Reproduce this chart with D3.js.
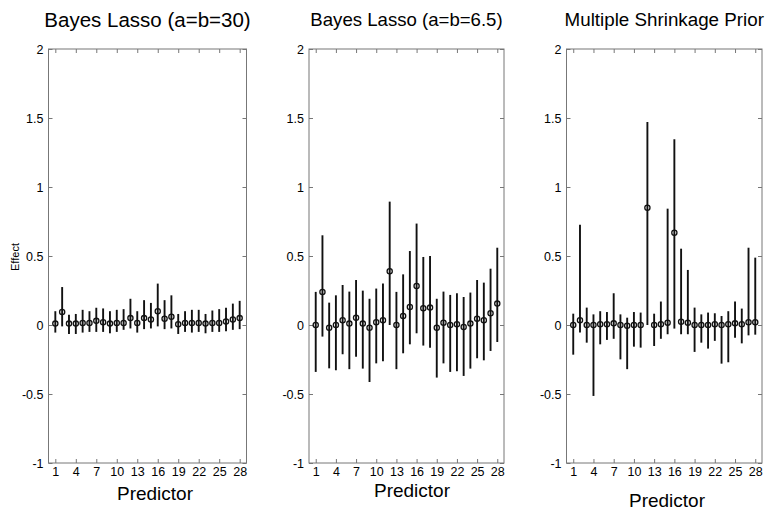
<!DOCTYPE html>
<html>
<head>
<title>Effect estimates | D3</title>
<style>
    body { margin: 0; background: #fff; font-family: "Liberation Sans", Arial, sans-serif; }
    .box { fill: none; stroke: #777; stroke-width: 1; }
    .tick line { stroke: #777; }
    .tick text { fill: #000; font-size: 12.5px; }
    .bar { stroke: #111; stroke-width: 1.9; }
    .est { fill: none; stroke: #111; stroke-width: 1.3; }
</style>
<script src="https://d3js.org/d3.v7.min.js"></script>
</head>
<body>
<script>
// predictors and axis ticks
var predictors = [1,2,3,4,5,6,7,8,9,10,11,12,13,14,15,16,17,18,19,20,21,22,23,24,25,26,27,28];
var xTicks = [1,4,7,10,13,16,19,22,25,28];
var yTicks = [-1,-0.5,0,0.5,1,1.5,2];
var titles = ["Bayes Lasso (a=b=30)", "Bayes Lasso (a=b=6.5)", "Multiple Shrinkage Prior"];

// Bayes Lasso (a=b=30)
var est1 = [0.01,0.095,0.01,0.01,0.015,0.015,0.03,0.02,0.01,0.015,0.015,0.05,0.015,0.05,0.04,0.10,0.045,0.06,0.005,0.015,0.015,0.015,0.01,0.015,0.015,0.025,0.04,0.05];
var hi1  = [0.10,0.275,0.075,0.08,0.11,0.10,0.125,0.12,0.10,0.11,0.115,0.19,0.10,0.18,0.16,0.30,0.18,0.215,0.08,0.10,0.11,0.11,0.08,0.105,0.115,0.125,0.155,0.175];
var lo1  = [-0.055,-0.01,-0.065,-0.065,-0.055,-0.05,-0.05,-0.05,-0.06,-0.05,-0.035,-0.025,-0.055,-0.03,-0.025,-0.01,-0.03,-0.025,-0.065,-0.05,-0.055,-0.05,-0.06,-0.05,-0.05,-0.045,-0.035,-0.03];

// Bayes Lasso (a=b=6.5)
var est2 = [0.0,0.24,-0.02,0.0,0.035,0.01,0.053,0.01,-0.02,0.02,0.034,0.39,0.0,0.065,0.13,0.283,0.121,0.126,-0.02,0.017,0.0,0.005,-0.014,0.01,0.046,0.034,0.085,0.155];
var hi2  = [0.24,0.65,0.162,0.215,0.29,0.242,0.326,0.249,0.19,0.264,0.30,0.894,0.24,0.367,0.536,0.735,0.493,0.50,0.19,0.242,0.218,0.23,0.203,0.235,0.326,0.307,0.408,0.56];
var lo2  = [-0.34,-0.084,-0.314,-0.328,-0.212,-0.32,-0.23,-0.316,-0.413,-0.278,-0.263,0.0,-0.32,-0.205,-0.14,-0.06,-0.149,-0.164,-0.381,-0.278,-0.34,-0.335,-0.369,-0.316,-0.241,-0.256,-0.188,-0.123];

// Multiple Shrinkage Prior
var est3 = [0.0,0.034,0.0,0.0,0.005,0.005,0.012,0.0,-0.005,0.0,0.0,0.85,0.0,0.005,0.017,0.669,0.024,0.017,0.0,0.0,0.0,0.005,0.0,0.005,0.012,0.005,0.02,0.02];
var hi3  = [0.082,0.727,0.126,0.077,0.10,0.094,0.23,0.077,0.053,0.094,0.09,1.471,0.082,0.17,0.843,1.346,0.553,0.399,0.126,0.077,0.09,0.085,0.065,0.10,0.17,0.119,0.56,0.488];
var lo3  = [-0.215,-0.055,-0.128,-0.514,-0.14,-0.108,-0.10,-0.249,-0.32,-0.157,-0.164,0.0,-0.152,-0.10,-0.067,-0.026,-0.067,-0.067,-0.195,-0.128,-0.171,-0.115,-0.28,-0.27,-0.092,-0.133,-0.075,-0.07];

var width = 765, height = 510;
var plotTop = 49, plotBottom = 463;

// panel layout
var panels = [
    { left: 48.5, right: 246.5, est: est1, hi: hi1, lo: lo1, titleY: 27, titleSize: 20.5, labX: 155, labY: 500 },
    { left: 309,  right: 504,   est: est2, hi: hi2, lo: lo2, titleY: 26, titleSize: 18.6, labX: 412, labY: 497 },
    { left: 566.5, right: 762,  est: est3, hi: hi3, lo: lo3, titleY: 26, titleSize: 18.8, labX: 667, labY: 506.5 }
];

var svg = d3.select("body").append("svg")
    .attr("width", width)
    .attr("height", height);

var y = d3.scaleLinear().domain([-1, 2]).range([plotBottom, plotTop]);

panels.forEach(function(p, i) {
    var x = d3.scaleLinear().domain([0, 29]).range([p.left, p.right]);
    var g = svg.append("g");

    // bottom axis with labels
    g.append("g")
        .attr("transform", "translate(0," + plotBottom + ")")
        .call(d3.axisBottom(x).tickValues(xTicks).tickSizeInner(-4).tickSizeOuter(0).tickPadding(4).tickFormat(String));
    // top axis
    g.append("g")
        .attr("transform", "translate(0," + plotTop + ")")
        .call(d3.axisTop(x).tickValues(xTicks).tickSizeInner(-4).tickSizeOuter(0).tickFormat(""));
    // left axis with labels
    g.append("g")
        .attr("transform", "translate(" + p.left + ",0)")
        .call(d3.axisLeft(y).tickValues(yTicks).tickSizeInner(-4).tickSizeOuter(0).tickPadding(5).tickFormat(String));
    // right axis
    g.append("g")
        .attr("transform", "translate(" + p.right + ",0)")
        .call(d3.axisRight(y).tickValues(yTicks).tickSizeInner(-4).tickSizeOuter(0).tickFormat(""));
    g.selectAll(".domain").remove();

    g.append("rect")
        .attr("class", "box")
        .attr("x", p.left).attr("y", plotTop)
        .attr("width", p.right - p.left).attr("height", plotBottom - plotTop);

    // interval bars
    g.selectAll(".bar")
        .data(predictors)
        .enter().append("line")
        .attr("class", "bar")
        .attr("x1", function(d) { return x(d); })
        .attr("x2", function(d) { return x(d); })
        .attr("y1", function(d, j) { return y(p.lo[j]); })
        .attr("y2", function(d, j) { return y(p.hi[j]); });

    // point estimates
    g.selectAll(".est")
        .data(predictors)
        .enter().append("circle")
        .attr("class", "est")
        .attr("cx", function(d) { return x(d); })
        .attr("cy", function(d, j) { return y(p.est[j]); })
        .attr("r", 2.6);

    g.append("text")
        .attr("x", (p.left + p.right) / 2)
        .attr("y", p.titleY)
        .attr("text-anchor", "middle")
        .style("font-size", p.titleSize + "px")
        .text(titles[i]);

    g.append("text")
        .attr("x", p.labX)
        .attr("y", p.labY)
        .attr("text-anchor", "middle")
        .style("font-size", "19px")
        .text("Predictor");
});

svg.append("text")
    .attr("transform", "translate(19,257) rotate(-90)")
    .attr("text-anchor", "middle")
    .style("font-size", "11px")
    .text("Effect");
</script>
</body>
</html>
